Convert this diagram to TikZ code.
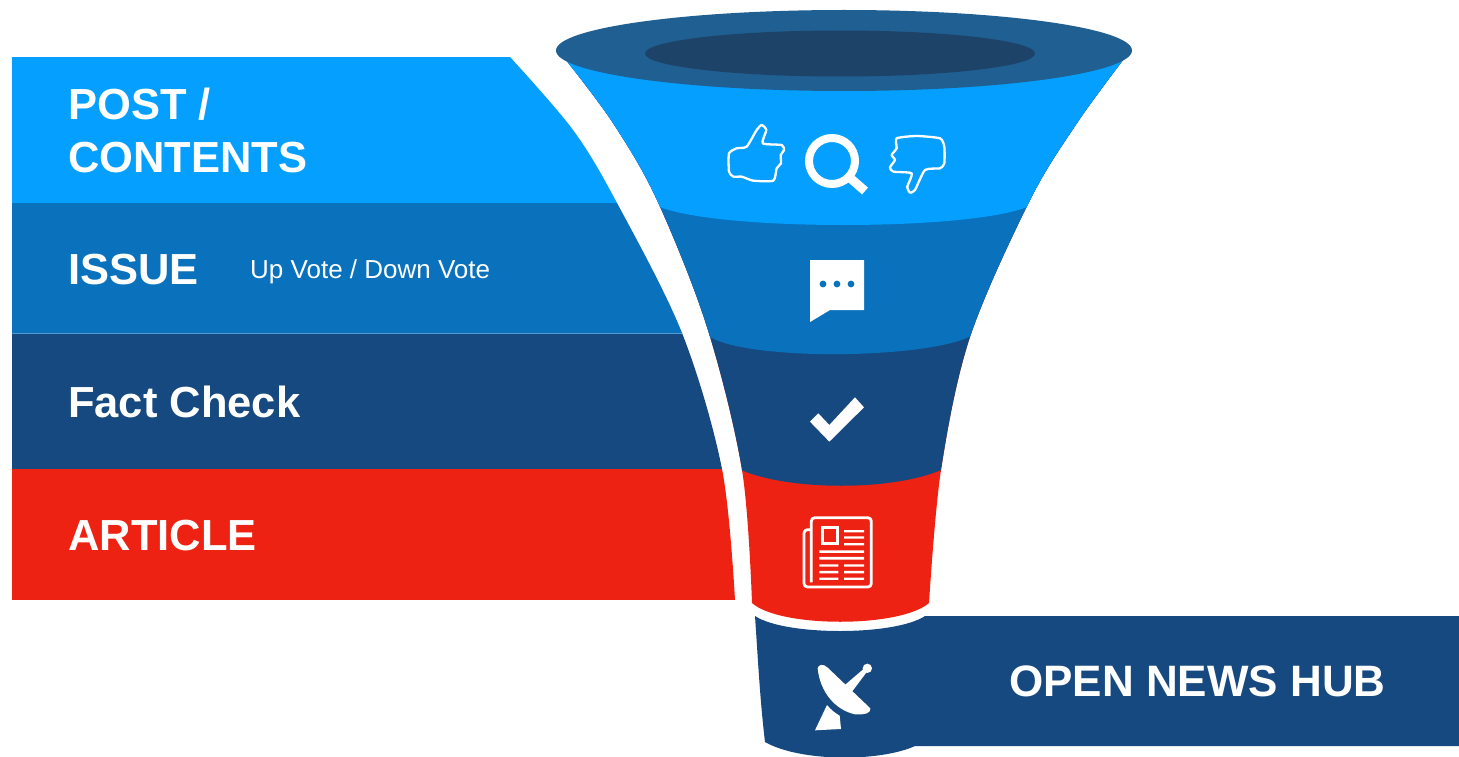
\documentclass[tikz,border=0pt]{standalone}
\usepackage{fontspec}
\setmainfont{Liberation Sans}
\definecolor{cLight}{HTML}{049FFF}
\definecolor{cMid}{HTML}{0A72BD}
\definecolor{cNavy}{HTML}{16497F}
\definecolor{cRed}{HTML}{EE2213}
\definecolor{cRim}{HTML}{1F5F92}
\definecolor{cHole}{HTML}{1D4368}
\tikzset{
  lab/.style={anchor=base west,inner sep=0pt,text=white,font=\fontsize{43.5}{46}\selectfont\bfseries},
  outl/.style={draw=white,line width=2.3pt,line join=round,fill=none},
  tiny/.style={x=0.3333pt,y=-0.3333pt},
}
\begin{document}
\begin{tikzpicture}[x=1pt,y=-1pt]
\useasboundingbox (0,0) rectangle (1459,757);
% left panels
\begin{scope}
  \clip (12,57) -- plot[smooth,tension=0.55] coordinates {(510,57) (573,130) (617,203) (682,333) (722,469) (735,600)} -- (12,600) -- cycle;
  \fill[cLight] (12,57) rectangle (760,203);
  \fill[cMid] (12,203) rectangle (760,333);
  \fill[cNavy] (12,333) rectangle (760,469);
  \fill[cRed] (12,469) rectangle (760,600);
  \draw[color=cMid!70!white,line width=0.8pt] (12,333) -- (760,333);
\end{scope}
% hub band and lower piece
\fill[cNavy] (755,616) .. controls (785,636) and (895,636) .. (925,616) -- (1459,616) -- (1459,746) -- (915,746)
  .. controls (880,762) and (800,762) .. (765,742)
  .. controls (760,700) and (758,660) .. (755,616) -- cycle;
% funnel
\begin{scope}
  \clip plot[smooth,tension=0.55] coordinates {(566,60) (613,123) (657,200) (707,327) (742,470) (752,603)}
     .. controls (780,628) and (900,628) .. (929,603)
     -- plot[smooth,tension=0.55] coordinates {(929,603) (941,470) (970,337) (1030,200) (1077,123) (1123,60)} -- cycle;
  \fill[cRed] (540,40) rectangle (1140,640);
  \fill[cNavy] (540,40) -- (540,470) -- (741,470) .. controls (790,491) and (892,491) .. (941,470) -- (1140,470) -- (1140,40) -- cycle;
  \fill[cMid] (540,40) -- (540,338) -- (712,338) .. controls (755,361) and (930,359) .. (973,335) -- (1140,335) -- (1140,40) -- cycle;
  \fill[cLight] (540,40) -- (540,207) -- (660,207) .. controls (720,231) and (967,231) .. (1027,207) -- (1140,207) -- (1140,40) -- cycle;
\end{scope}
% rim
\fill[cRim] (844,50.5) ellipse [x radius=288,y radius=40.5];
\fill[cHole] (840,53.5) ellipse [x radius=195,y radius=23];
% thumbs and loupe
\begin{scope}[shift={(710,110)},tiny]
  \draw[outl] plot[smooth cycle,tension=0.35] coordinates {(155,45) (169,60) (158,100) (215,105) (222,120) (212,135) (213,160) (200,175) (190,212) (130,212) (95,200) (70,200) (57,185) (57,130) (80,115) (110,110) (140,60)};
  \draw[outl] plot[smooth cycle,tension=0.35] coordinates {(560,85) (620,78) (690,85) (703,110) (703,160) (690,175) (645,180) (615,240) (600,248) (592,230) (605,190) (550,185) (540,172) (555,150) (545,135) (560,115)};
\end{scope}
\draw[white,line width=8pt] (832,161) circle [radius=23];
\draw[white,line width=9pt] (849,177) -- (865,191);
% chat bubble
\fill[white] (810,260) -- (864,260) -- (864,310) -- (830,310) -- (810,322) -- cycle;
\fill[cMid] (823,284) circle [radius=3.4] (837,284) circle [radius=3.4] (851,284) circle [radius=3.4];
% check mark
\begin{scope}[shift={(680,370)},tiny]
  \fill[white] (390,155) -- (415,130) -- (448,165) -- (525,82) -- (552,112) -- (448,215) -- cycle;
\end{scope}
% newspaper
\begin{scope}[shift={(790,505)},tiny]
  \draw[white,line width=2.8pt,line join=round,rounded corners=3.5pt] (64,232) -- (64,38) -- (244,38) -- (244,246) -- (42,246) -- (42,74) -- (64,74);
  \draw[white,line width=3.2pt] (97,68) rectangle (143,116);
  \fill[white] (162,75) rectangle (222,82) (162,94) rectangle (222,101) (162,114) rectangle (222,121)
    (88,136) rectangle (222,144) (88,156) rectangle (222,164)
    (88,178) rectangle (145,185) (162,178) rectangle (222,185)
    (88,198) rectangle (145,205) (162,198) rectangle (222,205)
    (88,218) rectangle (145,225) (162,218) rectangle (222,225);
\end{scope}
% dish
\begin{scope}[shift={(805,655)},tiny]
  \fill[white] (38,40) .. controls (40,28) and (55,25) .. (68,38)
     -- (196,160) .. controls (198,172) and (185,180) .. (150,178)
     .. controls (90,165) and (45,110) .. (38,40) -- cycle;
  \fill[white] (108,100) -- (178,40) -- (186,50) -- (135,118) -- cycle;
  \fill[white] (187,40) circle [radius=14];
  \fill[white] (30,226) -- (66,150) .. controls (78,165) and (92,175) .. (104,182) -- (108,222) -- cycle;
\end{scope}
% text
\node[lab] (post) at (68,120) {POST /};
\node[lab] (contents) at (68,172) {CONTENTS};
\node[lab] (issue) at (68,284) {ISSUE};
\node[anchor=base west,inner sep=0pt,text=white,font=\fontsize{26}{28}\selectfont] (vote) at (250,278) {Up Vote / Down Vote};
\node[lab] (fact) at (68,417) {Fact Check};
\node[lab] (article) at (68,550) {ARTICLE};
\node[lab,font=\fontsize{44}{46}\selectfont\bfseries] (hub) at (1009,696) {OPEN NEWS HUB};
\end{tikzpicture}
\end{document}
